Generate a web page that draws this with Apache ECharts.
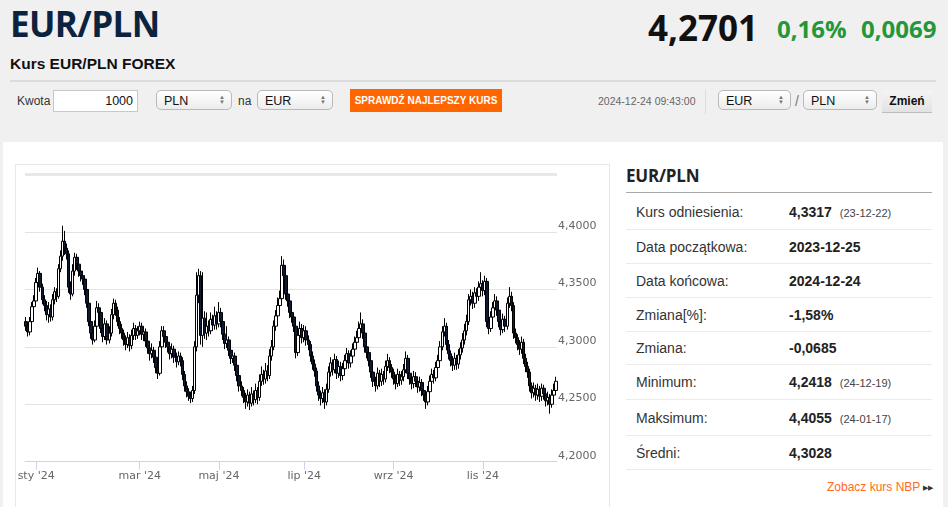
<!DOCTYPE html>
<html><head><meta charset="utf-8">
<script src="https://cdn.jsdelivr.net/npm/echarts@6/dist/echarts.min.js"></script>
<style>
html,body{margin:0;padding:0;}
body{width:948px;height:507px;overflow:hidden;background:#f0f0f0;position:relative;font-family:Arial,"Liberation Sans",sans-serif;color:#333;}
.a{position:absolute;white-space:nowrap;}
.os{font-family:"Open Sans",sans-serif;}
.sel{position:absolute;height:20px;border:1px solid #b9b9b9;border-radius:5px;background:linear-gradient(#ffffff,#ececec);font-size:12.5px;line-height:20px;color:#111;box-sizing:border-box;padding-left:7px;}
.sel .ar{position:absolute;right:6px;top:4px;font-size:6px;line-height:5px;color:#777;}
.row{position:absolute;left:626px;width:306px;border-bottom:1px solid #ebebeb;display:flex;align-items:center;font-size:14px;color:#333;}
.row .l{position:absolute;left:10px;}
.row .v{position:absolute;left:163px;font-weight:bold;color:#222;}
.row .d{font-weight:normal;font-size:11px;color:#444;margin-left:8px;}
</style></head>
<body>
<div class="a os" style="left:10px;top:6px;font-size:35px;line-height:36px;font-weight:700;color:#0c2340;letter-spacing:-0.6px;">EUR/PLN</div>
<div class="a os" style="left:648px;top:10px;font-size:35px;line-height:35px;font-weight:700;color:#111;">4,2701</div>
<div class="a os" style="left:777px;top:17px;font-size:24px;line-height:24px;font-weight:700;color:#239739;">0,16%</div>
<div class="a os" style="left:861px;top:17px;font-size:24px;line-height:24px;font-weight:700;color:#239739;">0,0069</div>
<div class="a" style="left:10px;top:56px;font-size:15.5px;line-height:16px;font-weight:bold;color:#111;">Kurs EUR/PLN FOREX</div>
<div class="a" style="left:10px;top:80px;width:926px;height:2px;background:#dcdcdc;"></div>

<div class="a" style="left:17px;top:94px;font-size:12px;line-height:14px;color:#333;">Kwota</div>
<div class="a" style="left:53px;top:90px;width:85px;height:22px;box-sizing:border-box;border:1px solid #c8c8c8;background:#fff;font-size:12.5px;line-height:20px;text-align:right;padding-right:4px;color:#111;">1000</div>
<div class="sel" style="left:156px;top:90px;width:76px;">PLN<span class="ar">▲<br>▼</span></div>
<div class="a" style="left:238px;top:94px;font-size:12px;line-height:14px;color:#333;">na</div>
<div class="sel" style="left:257px;top:90px;width:76px;">EUR<span class="ar">▲<br>▼</span></div>
<div class="a" style="left:350px;top:89px;width:152px;height:23px;background:#ff6600;color:#fff;font-size:10px;font-weight:bold;line-height:23px;text-align:center;">SPRAWDŹ NAJLEPSZY KURS</div>
<div class="a" style="left:598px;top:95px;font-size:10.5px;line-height:12px;color:#666;">2024-12-24 09:43:00</div>
<div class="a" style="left:705px;top:89px;width:1px;height:25px;background:#dcdcdc;"></div>
<div class="sel" style="left:718px;top:90px;width:73px;">EUR<span class="ar">▲<br>▼</span></div>
<div class="a" style="left:795px;top:93px;font-size:14px;line-height:16px;color:#777;">/</div>
<div class="sel" style="left:803px;top:90px;width:74px;">PLN<span class="ar">▲<br>▼</span></div>
<div class="a" style="left:882px;top:91px;width:50px;height:22px;box-sizing:border-box;background:linear-gradient(#f4f4f4,#e2e2e2);border-bottom:1px solid #bdbdbd;font-size:12px;font-weight:bold;line-height:21px;text-align:center;color:#111;">Zmień</div>

<div class="a" style="left:3px;top:142px;width:940px;height:370px;background:#fff;"></div>
<div class="a" style="left:15px;top:164px;width:595px;height:360px;border:1px solid #e8e8e8;box-sizing:border-box;"></div>

<div class="a os" style="left:626px;top:165px;font-size:17px;line-height:22px;font-weight:700;color:#222;letter-spacing:-0.2px;">EUR/PLN</div>
<div class="a" style="left:626px;top:192px;width:306px;height:1px;background:#a8a8a8;"></div>
<div class="row" style="top:194px;height:35px;"><span class="l">Kurs odniesienia:</span><span class="v">4,3317<span class="d">(23-12-22)</span></span></div>
<div class="row" style="top:230px;height:33px;"><span class="l">Data początkowa:</span><span class="v">2023-12-25</span></div>
<div class="row" style="top:264px;height:33px;"><span class="l">Data końcowa:</span><span class="v">2024-12-24</span></div>
<div class="row" style="top:298px;height:33px;"><span class="l">Zmiana[%]:</span><span class="v">-1,58%</span></div>
<div class="row" style="top:332px;height:32px;"><span class="l">Zmiana:</span><span class="v">-0,0685</span></div>
<div class="row" style="top:365px;height:34px;"><span class="l">Minimum:</span><span class="v">4,2418<span class="d">(24-12-19)</span></span></div>
<div class="row" style="top:400px;height:35px;"><span class="l">Maksimum:</span><span class="v">4,4055<span class="d">(24-01-17)</span></span></div>
<div class="row" style="top:436px;height:33px;"><span class="l">Średni:</span><span class="v">4,3028</span></div>
<div class="a" style="left:827px;top:480px;font-size:12px;line-height:14px;color:#ff6a1a;">Zobacz kurs NBP <span style="font-size:7px;color:#333;vertical-align:1px;">▶▶</span></div>

<div id="chart" style="position:absolute;left:0;top:0;width:948px;height:507px;z-index:5;pointer-events:none;"></div>
<script>
// Daily candles [open, close, low, high]
const ohlc = [
[4.322,4.318,4.314,4.326],[4.318,4.313,4.309,4.321],[4.313,4.322,4.310,4.326],[4.322,4.335,4.319,4.339],[4.335,4.340,4.331,4.345],
[4.340,4.356,4.337,4.360],[4.356,4.364,4.351,4.369],[4.364,4.352,4.348,4.366],[4.352,4.341,4.337,4.355],[4.341,4.336,4.331,4.345],
[4.336,4.328,4.323,4.340],[4.328,4.333,4.321,4.339],[4.333,4.326,4.322,4.337],[4.326,4.341,4.323,4.346],[4.341,4.348,4.337,4.352],
[4.348,4.344,4.339,4.351],[4.344,4.368,4.342,4.372],[4.368,4.379,4.365,4.384],[4.379,4.392,4.375,4.4055],[4.392,4.386,4.380,4.401],
[4.386,4.381,4.376,4.390],[4.381,4.352,4.347,4.384],[4.352,4.346,4.341,4.357],[4.346,4.366,4.344,4.372],[4.366,4.378,4.362,4.382],
[4.378,4.372,4.367,4.381],[4.372,4.366,4.361,4.376],[4.366,4.362,4.357,4.370],[4.362,4.359,4.354,4.366],[4.359,4.350,4.345,4.362],
[4.350,4.338,4.334,4.353],[4.338,4.322,4.318,4.341],[4.322,4.312,4.307,4.325],[4.312,4.306,4.302,4.316],[4.306,4.318,4.304,4.323],
[4.318,4.334,4.315,4.340],[4.334,4.330,4.325,4.338],[4.330,4.316,4.312,4.333],[4.316,4.309,4.304,4.319],[4.309,4.320,4.306,4.325],
[4.320,4.306,4.302,4.323],[4.306,4.312,4.303,4.318],[4.312,4.328,4.309,4.333],[4.328,4.338,4.324,4.342],[4.338,4.332,4.327,4.341],
[4.332,4.322,4.318,4.335],[4.322,4.316,4.311,4.326],[4.316,4.312,4.307,4.320],[4.312,4.306,4.301,4.315],[4.306,4.302,4.297,4.310],
[4.302,4.308,4.299,4.313],[4.308,4.301,4.296,4.311],[4.301,4.310,4.298,4.315],[4.310,4.316,4.306,4.321],[4.316,4.310,4.306,4.319],
[4.310,4.314,4.307,4.318],[4.314,4.318,4.310,4.322],[4.318,4.311,4.306,4.321],[4.311,4.313,4.305,4.317],[4.313,4.305,4.300,4.316],
[4.305,4.299,4.294,4.308],[4.299,4.294,4.288,4.302],[4.294,4.297,4.290,4.303],[4.297,4.291,4.286,4.300],[4.291,4.282,4.277,4.294],
[4.282,4.277,4.272,4.285],[4.277,4.300,4.275,4.305],[4.300,4.314,4.297,4.318],[4.314,4.309,4.304,4.318],[4.309,4.304,4.299,4.312],
[4.304,4.300,4.295,4.308],[4.300,4.294,4.289,4.304],[4.294,4.298,4.290,4.303],[4.298,4.291,4.286,4.301],[4.291,4.287,4.282,4.295],
[4.287,4.292,4.284,4.296],[4.292,4.288,4.283,4.295],[4.288,4.276,4.271,4.291],[4.276,4.266,4.261,4.279],[4.266,4.261,4.256,4.270],
[4.261,4.257,4.253,4.264],[4.257,4.255,4.251,4.261],[4.255,4.262,4.252,4.266],[4.262,4.300,4.259,4.305],[4.300,4.345,4.296,4.365],
[4.345,4.362,4.338,4.368],[4.362,4.310,4.302,4.366],[4.310,4.325,4.300,4.365],[4.325,4.312,4.307,4.331],[4.312,4.318,4.306,4.330],
[4.318,4.314,4.309,4.323],[4.314,4.324,4.311,4.330],[4.324,4.319,4.314,4.328],[4.319,4.327,4.315,4.335],[4.327,4.320,4.315,4.331],
[4.320,4.330,4.317,4.339],[4.330,4.322,4.317,4.334],[4.322,4.311,4.306,4.325],[4.311,4.303,4.298,4.314],[4.303,4.306,4.299,4.318],
[4.306,4.297,4.292,4.309],[4.297,4.290,4.285,4.300],[4.290,4.292,4.286,4.297],[4.292,4.284,4.279,4.295],[4.284,4.275,4.270,4.287],
[4.275,4.266,4.261,4.278],[4.266,4.262,4.257,4.270],[4.262,4.256,4.251,4.265],[4.256,4.252,4.246,4.260],[4.252,4.258,4.248,4.263],
[4.258,4.251,4.245,4.261],[4.251,4.259,4.248,4.265],[4.259,4.254,4.249,4.262],[4.254,4.262,4.251,4.268],[4.262,4.256,4.250,4.265],
[4.256,4.270,4.253,4.276],[4.270,4.276,4.266,4.283],[4.276,4.272,4.267,4.280],[4.272,4.279,4.268,4.286],[4.279,4.275,4.270,4.284],
[4.275,4.292,4.272,4.298],[4.292,4.300,4.288,4.306],[4.300,4.318,4.297,4.323],[4.318,4.327,4.314,4.332],[4.327,4.336,4.323,4.343],
[4.336,4.342,4.331,4.349],[4.342,4.371,4.339,4.379],[4.371,4.362,4.356,4.376],[4.362,4.346,4.341,4.365],[4.346,4.340,4.335,4.350],
[4.340,4.330,4.325,4.344],[4.330,4.326,4.321,4.335],[4.326,4.318,4.313,4.329],[4.318,4.295,4.290,4.321],[4.295,4.310,4.292,4.316],
[4.310,4.316,4.306,4.322],[4.316,4.308,4.303,4.320],[4.308,4.314,4.304,4.319],[4.314,4.306,4.301,4.318],[4.306,4.302,4.297,4.310],
[4.302,4.292,4.287,4.305],[4.292,4.285,4.280,4.296],[4.285,4.279,4.274,4.289],[4.279,4.266,4.261,4.282],[4.266,4.258,4.253,4.270],
[4.258,4.255,4.249,4.262],[4.255,4.260,4.251,4.265],[4.260,4.252,4.246,4.263],[4.252,4.263,4.249,4.268],[4.263,4.278,4.260,4.283],
[4.278,4.286,4.274,4.291],[4.286,4.280,4.275,4.289],[4.280,4.289,4.277,4.294],[4.289,4.277,4.272,4.292],[4.277,4.283,4.273,4.288],
[4.283,4.275,4.270,4.287],[4.275,4.281,4.271,4.286],[4.281,4.288,4.277,4.293],[4.288,4.294,4.284,4.299],[4.294,4.286,4.281,4.297],
[4.286,4.292,4.282,4.297],[4.292,4.298,4.288,4.303],[4.298,4.304,4.294,4.309],[4.304,4.308,4.300,4.314],[4.308,4.316,4.304,4.322],
[4.316,4.320,4.311,4.330],[4.320,4.312,4.307,4.324],[4.312,4.300,4.295,4.315],[4.300,4.295,4.290,4.304],[4.295,4.288,4.283,4.298],
[4.288,4.278,4.273,4.291],[4.278,4.270,4.265,4.281],[4.270,4.266,4.261,4.274],[4.266,4.277,4.263,4.282],[4.277,4.270,4.265,4.280],
[4.270,4.276,4.266,4.281],[4.276,4.272,4.267,4.279],[4.272,4.283,4.269,4.288],[4.283,4.288,4.279,4.294],[4.288,4.282,4.277,4.291],
[4.282,4.278,4.273,4.285],[4.278,4.272,4.267,4.281],[4.272,4.268,4.263,4.276],[4.268,4.276,4.265,4.281],[4.276,4.271,4.266,4.279],
[4.271,4.274,4.267,4.279],[4.274,4.280,4.270,4.285],[4.280,4.290,4.277,4.296],[4.290,4.277,4.272,4.293],[4.277,4.272,4.267,4.280],
[4.272,4.268,4.263,4.275],[4.268,4.274,4.264,4.279],[4.274,4.270,4.265,4.278],[4.270,4.265,4.260,4.273],[4.265,4.269,4.261,4.274],
[4.269,4.262,4.257,4.272],[4.262,4.258,4.253,4.266],[4.258,4.252,4.246,4.261],[4.252,4.261,4.249,4.266],[4.261,4.270,4.257,4.275],
[4.270,4.276,4.266,4.281],[4.276,4.273,4.268,4.280],[4.273,4.282,4.270,4.287],[4.282,4.288,4.278,4.293],[4.288,4.300,4.285,4.305],
[4.300,4.313,4.297,4.318],[4.313,4.318,4.309,4.325],[4.318,4.302,4.297,4.321],[4.302,4.294,4.289,4.306],[4.294,4.288,4.283,4.297],
[4.288,4.284,4.279,4.292],[4.284,4.290,4.280,4.295],[4.290,4.285,4.280,4.293],[4.285,4.293,4.281,4.298],[4.293,4.299,4.289,4.304],
[4.299,4.306,4.295,4.312],[4.306,4.314,4.302,4.320],[4.314,4.322,4.310,4.328],[4.322,4.341,4.319,4.346],[4.341,4.344,4.336,4.350],
[4.344,4.338,4.333,4.348],[4.338,4.347,4.334,4.352],[4.347,4.344,4.339,4.351],[4.344,4.352,4.340,4.357],[4.352,4.355,4.347,4.365],
[4.355,4.349,4.344,4.358],[4.349,4.357,4.345,4.362],[4.357,4.322,4.317,4.360],[4.322,4.316,4.311,4.326],[4.316,4.326,4.313,4.331],
[4.326,4.334,4.322,4.339],[4.334,4.340,4.330,4.346],[4.340,4.332,4.327,4.344],[4.332,4.322,4.317,4.335],[4.322,4.315,4.310,4.326],
[4.315,4.324,4.312,4.329],[4.324,4.318,4.313,4.327],[4.318,4.338,4.315,4.343],[4.338,4.344,4.334,4.352],[4.344,4.336,4.331,4.348],
[4.336,4.312,4.307,4.339],[4.312,4.308,4.303,4.316],[4.308,4.302,4.297,4.311],[4.302,4.298,4.293,4.306],[4.298,4.304,4.294,4.309],
[4.304,4.290,4.285,4.307],[4.290,4.283,4.278,4.294],[4.283,4.278,4.273,4.287],[4.278,4.266,4.261,4.281],[4.266,4.260,4.255,4.269],
[4.260,4.264,4.256,4.269],[4.264,4.258,4.253,4.267],[4.258,4.263,4.254,4.268],[4.263,4.257,4.252,4.266],[4.257,4.264,4.253,4.268],
[4.264,4.259,4.254,4.267],[4.259,4.253,4.248,4.262],[4.253,4.256,4.249,4.261],[4.256,4.250,4.2418,4.259],[4.250,4.258,4.247,4.263],
[4.258,4.262,4.254,4.268],[4.262,4.270,4.258,4.274]
];
// month tick labels and the candle index where each appears
const monthLabels = ["sty '24","mar '24","maj '24","lip '24","wrz '24","lis '24"];
const monthIndex = [5, 56, 95, 137, 181, 225];
// y-axis
const yMin = 4.20, yMax = 4.45, yStep = 0.05;

const categories = ohlc.map((d, i) => String(i));

const chart = echarts.init(document.getElementById('chart'), null, {renderer: 'canvas'});
chart.setOption({
  animation: false,
  backgroundColor: 'transparent',
  grid: {left: 25, right: 391, top: 174.6, bottom: 45.3, containLabel: false},
  xAxis: {
    type: 'category',
    data: categories,
    boundaryGap: true,
    axisLine: {show: true, lineStyle: {color: '#ccd6eb', width: 1}},
    axisTick: {show: true, alignWithLabel: true, length: 8, lineStyle: {color: '#ccd6eb'},
      interval: (idx) => monthIndex.indexOf(idx) >= 0},
    axisLabel: {
      interval: (idx) => monthIndex.indexOf(idx) >= 0,
      formatter: (v, idx) => { const k = monthIndex.indexOf(idx); return k >= 0 ? monthLabels[k] : ''; },
      color: '#666', fontSize: 11, fontFamily: 'DejaVu Sans', margin: 9
    },
    splitLine: {show: false}
  },
  yAxis: {
    type: 'value',
    position: 'right',
    min: yMin, max: yMax, interval: yStep,
    axisLine: {show: false}, axisTick: {show: false},
    axisLabel: {
      formatter: (v) => v.toFixed(4).replace('.', ','),
      color: '#666', fontSize: 11, fontFamily: 'DejaVu Sans', margin: 1,
      verticalAlign: 'bottom', lineHeight: 12, showMaxLabel: false
    },
    splitLine: {show: true, lineStyle: {color: '#e3e3e3', width: 1}}
  },
  series: [{
    type: 'candlestick',
    data: ohlc,
    barWidth: 3,
    itemStyle: {
      color: '#ffffff', color0: '#0c1a33',
      borderColor: '#000000', borderColor0: '#000000', borderColorDoji: '#000000',
      borderWidth: 1
    },
    markLine: {
      silent: true, symbol: ['none', 'none'], label: {show: false},
      lineStyle: {color: '#e8e8e8', width: 3, type: 'solid'},
      data: [{yAxis: yMax}]
    }
  }]
});
</script>
</body></html>
